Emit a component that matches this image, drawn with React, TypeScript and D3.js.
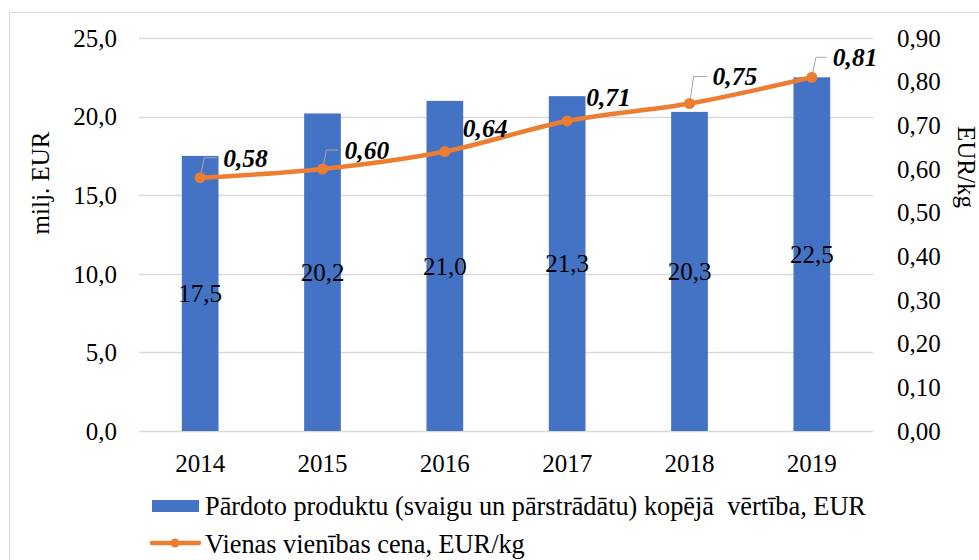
import React from "react";
import * as d3 from "d3";

const years = ["2014", "2015", "2016", "2017", "2018", "2019"];
const totalValue = [17.5, 20.2, 21.0, 21.3, 20.3, 22.5];
const unitPrice = [0.58, 0.6, 0.64, 0.71, 0.75, 0.81];
const leftTicks = [0, 5, 10, 15, 20, 25];
const rightTicks = [0, 0.1, 0.2, 0.3, 0.4, 0.5, 0.6, 0.7, 0.8, 0.9];
const barSeriesName = "Pārdoto produktu (svaigu un pārstrādātu) kopējā  vērtība, EUR";
const lineSeriesName = "Vienas vienības cena, EUR/kg";
const leftTitle = "milj. EUR";
const rightTitle = "EUR/kg";

// label nudges (dx, dy from the point) and whether a leader line is drawn
const labelNudge: [number, number, boolean][] = [
  [23, -20, true],
  [22, -19, true],
  [18, -23, false],
  [19, -24, false],
  [23, -27, true],
  [21, -20, true],
];

const W = 979;
const H = 560;
const FONT = "Liberation Serif, Tinos, Times New Roman, DejaVu Serif, serif";
const BLUE = "#4472C4";
const ORANGE = "#ED7D31";
const GRID = "#d9d9d9";

const comma = (s: string) => s.replace(".", ",");

export default function App() {
  const x = d3
    .scaleBand<string>()
    .domain(years)
    .range([139, 873])
    .paddingInner(0.7)
    .paddingOuter(0.35);
  const yL = d3.scaleLinear().domain([0, 25]).range([431, 38]);
  const yR = d3.scaleLinear().domain([0, 0.9]).range([431, 38]);
  const f1 = d3.format(".1f");
  const f2 = d3.format(".2f");
  const cx = (y: string) => (x(y) as number) + x.bandwidth() / 2;

  const pts: [number, number][] = years.map((yr, i) => [cx(yr), yR(unitPrice[i])]);
  const line = d3.line().curve(d3.curveCatmullRom.alpha(0.5))(pts) || "";
  const txt = { fontFamily: FONT, fontSize: 25, fill: "#000" } as React.CSSProperties;
  const legTxt = { ...txt, fontSize: 26.3 } as React.CSSProperties;

  return (
    <svg
      width={W}
      height={H}
      style={{ position: "fixed", left: 0, top: 0, background: "#fff", fontFamily: FONT }}
    >
      <rect x={0} y={0} width={W} height={H} fill="#fff" />
      <line x1={9.5} y1={12.5} x2={W} y2={12.5} stroke={GRID} />
      <line x1={9.5} y1={12.5} x2={9.5} y2={H} stroke={GRID} />

      {leftTicks.map((t) => (
        <line
          key={"g" + t}
          x1={139}
          x2={873}
          y1={Math.round(yL(t)) + 0.5}
          y2={Math.round(yL(t)) + 0.5}
          stroke={GRID}
          strokeWidth={1.3}
        />
      ))}

      {leftTicks.map((t) => (
        <text key={"l" + t} x={117} y={yL(t)} dy="0.35em" textAnchor="end" style={txt}>
          {comma(f1(t))}
        </text>
      ))}
      {rightTicks.map((t) => (
        <text key={"r" + t} x={897} y={yR(t)} dy="0.35em" textAnchor="start" style={txt}>
          {comma(f2(t))}
        </text>
      ))}

      <text transform={`translate(49,183) rotate(-90)`} textAnchor="middle" style={txt}>
        {leftTitle}
      </text>
      <text transform={`translate(958,167) rotate(90)`} textAnchor="middle" style={txt}>
        {rightTitle}
      </text>

      {years.map((yr, i) => (
        <rect
          key={"b" + yr}
          x={x(yr)}
          y={yL(totalValue[i])}
          width={x.bandwidth()}
          height={yL(0) - yL(totalValue[i])}
          fill={BLUE}
        />
      ))}

      {years.map((yr, i) => (
        <text
          key={"bl" + yr}
          x={cx(yr)}
          y={(yL(totalValue[i]) + yL(0)) / 2}
          dy="0.35em"
          textAnchor="middle"
          style={txt}
        >
          {comma(f1(totalValue[i]))}
        </text>
      ))}

      {years.map((yr) => (
        <text key={"x" + yr} x={cx(yr)} y={472} textAnchor="middle" style={txt}>
          {yr}
        </text>
      ))}

      <path d={line} fill="none" stroke={ORANGE} strokeWidth={4.5} strokeLinecap="round" />
      {pts.map(([px, py], i) => (
        <circle key={"m" + i} cx={px} cy={py} r={5.5} fill={ORANGE} />
      ))}

      {pts.map(([px, py], i) => {
        const [dx, dy, leader] = labelNudge[i];
        const ly = py + dy;
        return (
          <g key={"pl" + i}>
            {leader && (
              <polyline
                points={`${px + 1},${py - 5} ${px + 4},${ly} ${px + dx - 6},${ly}`}
                fill="none"
                stroke="#a6a6a6"
                strokeWidth={1}
              />
            )}
            <text
              x={px + dx}
              y={ly}
              dy="0.35em"
              style={{ ...txt, fontSize: 25.5, fontWeight: "bold", fontStyle: "italic" }}
            >
              {comma(f2(unitPrice[i]))}
            </text>
          </g>
        );
      })}

      <rect x={152} y={500} width={47} height={12} fill={BLUE} />
      <text x={205} y={515} style={{ ...legTxt, whiteSpace: "pre" }}>
        {barSeriesName}
      </text>
      <line x1={152} x2={199} y1={543} y2={543} stroke={ORANGE} strokeWidth={4.5} strokeLinecap="round" />
      <circle cx={175} cy={543} r={4.5} fill={ORANGE} />
      <text x={205} y={553} style={legTxt}>
        {lineSeriesName}
      </text>
    </svg>
  );
}
